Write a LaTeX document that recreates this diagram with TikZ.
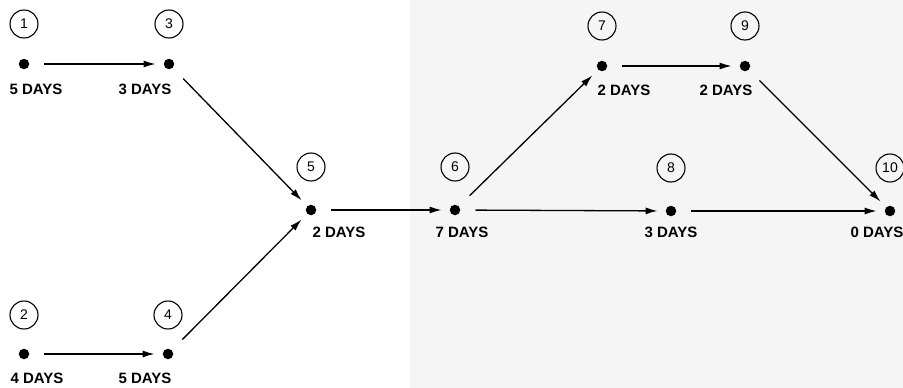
\documentclass[tikz,border=0pt]{standalone}
\usepackage{fontspec}
\setmainfont{Liberation Sans}
\usetikzlibrary{arrows.meta}
\definecolor{bggray}{RGB}{245,245,245}
\begin{document}
\begin{tikzpicture}[x=1pt,y=-1pt,
 dot/.style={circle,fill=black,inner sep=0pt,minimum size=10.5pt},
 num/.style={circle,draw,line width=1.1pt,inner sep=0pt,minimum size=28pt,font=\fontsize{14}{14}\selectfont},
 lbl/.style={font=\fontsize{15}{16}\selectfont\bfseries,inner sep=0pt},
 arr/.style={-{Latex[length=12pt,width=7pt]},line width=1.3pt,shorten <=15pt,shorten >=8pt}]
\useasboundingbox (0,0) rectangle (903,388);
\fill[bggray] (410,0) rectangle (903,388);
% dots
\node[dot] (d1) at (24,64) {};
\node[dot] (d3) at (169,64) {};
\node[dot] (d2) at (24,354) {};
\node[dot] (d4) at (168,354) {};
\node[dot] (d5) at (311,210) {};
\node[dot] (d6) at (455,210) {};
\node[dot] (d8) at (671,211) {};
\node[dot] (d10) at (890,211) {};
\node[dot] (d7) at (602,66) {};
\node[dot] (d9) at (745,66) {};
% number circles
\node[num] (c1) at (24,24) {1};
\node[num] (c3) at (169,24) {3};
\node[num] (c2) at (24,315) {2};
\node[num] (c4) at (168,315) {4};
\node[num] (c5) at (311,167) {5};
\node[num] (c6) at (455,167) {6};
\node[num] (c8) at (671,168) {8};
\node[num] (c10) at (890,168) {10};
\node[num] (c7) at (602,26) {7};
\node[num] (c9) at (745,26) {9};
% labels
\node[lbl] (l1) at (36,89) {5 DAYS};
\node[lbl] (l3) at (145,89) {3 DAYS};
\node[lbl] (l2) at (37,378) {4 DAYS};
\node[lbl] (l4) at (145,378) {5 DAYS};
\node[lbl] (l5) at (339,232) {2 DAYS};
\node[lbl] (l6) at (462,232) {7 DAYS};
\node[lbl] (l8) at (671,232) {3 DAYS};
\node[lbl] (l10) at (877,232) {0 DAYS};
\node[lbl] (l7) at (624,90) {2 DAYS};
\node[lbl] (l9) at (726,90) {2 DAYS};
% arrows
\draw[arr] (d1) -- (d3);
\draw[arr] (d2) -- (d4);
\draw[arr] (d3) -- (d5);
\draw[arr] (d4) -- (d5);
\draw[arr] (d5) -- (d6);
\draw[arr] (d6) -- (d7);
\draw[arr] (d6) -- (d8);
\draw[arr] (d7) -- (d9);
\draw[arr] (d8) -- (d10);
\draw[arr] (d9) -- (d10);
\end{tikzpicture}
\end{document}
